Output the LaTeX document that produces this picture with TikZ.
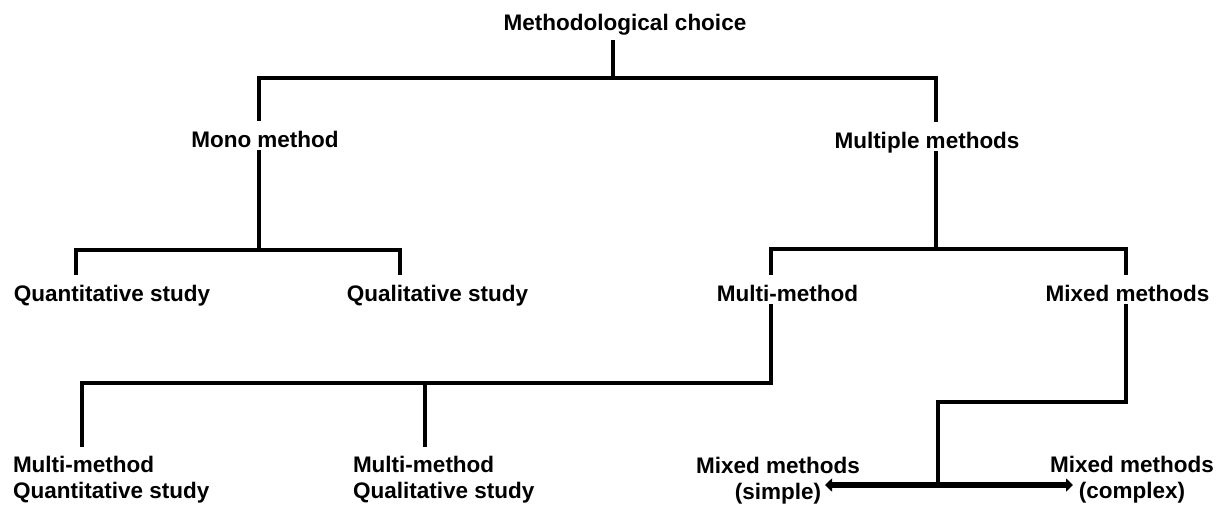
\documentclass[tikz,border=0pt]{standalone}
\usepackage{fontspec}
\setmainfont{Liberation Sans}
\usetikzlibrary{arrows.meta}
\begin{document}
\begin{tikzpicture}[x=1pt,y=-1pt,
  lab/.style={font=\bfseries\fontsize{22.5}{26}\selectfont, inner sep=0pt, outer sep=0pt,
              text height=26pt, text depth=3pt, anchor=base},
  lab2/.style={font=\bfseries\fontsize{22.5}{26}\selectfont, inner sep=0pt, outer xsep=0pt,
               outer ysep=9pt},
  ln/.style={line width=3.3pt, black},
  dbl/.style={line width=5.5pt, black, {Triangle[length=7pt,width=13pt]}-{Triangle[length=7pt,width=13pt]}}
]
\useasboundingbox (0,0) rectangle (1229,504);
\fill[white] (0,0) rectangle (1229,504);

% labels
\node[lab, text depth=10pt] (mc) at (625,30) {Methodological choice};
\node[lab] (mono) at (265,147) {Mono method};
\node[lab] (multi) at (927,148) {Multiple methods};
\node[lab] (quant) at (112,301) {Quantitative study};
\node[lab] (qual) at (437.5,301) {Qualitative study};
\node[lab] (mm) at (787.5,301) {Multi-method};
\node[lab] (mixed) at (1127.5,301) {Mixed methods};
\node[lab2, align=left, anchor=north west] (mmquant) at (13,447) {Multi-method\\Quantitative study};
\node[lab2, align=left, anchor=north west] (mmqual) at (353,447) {Multi-method\\Qualitative study};
\node[lab2, align=center, anchor=north] (simple) at (778,448) {Mixed methods\\(simple)};
\node[lab2, align=center, anchor=north] (complex) at (1132,447) {Mixed methods\\(complex)};

% junction coordinates
\coordinate (jtop) at (613,78);
\coordinate (jmono) at (259,250);
\coordinate (jmulti) at (936,249);
\coordinate (q1) at (76,250);
\coordinate (q2) at (400,250);
\coordinate (m1) at (771,249);
\coordinate (m2) at (1126,249);
\coordinate (jb) at (771,383);
\coordinate (b1) at (82,383);
\coordinate (b2) at (425,383);
\coordinate (jm) at (1126,402);
\coordinate (jm2) at (938,402);
\coordinate (jarr) at (938,485);
\coordinate (aL) at (825,485);
\coordinate (aR) at (1073,485);

% connectors
\draw[ln] (mc.south -| jtop) -- (jtop);
\draw[ln] (mono.north -| jmono) |- (jtop) -| (multi.north -| jmulti);
\draw[ln] (mono.south -| jmono) -- (jmono);
\draw[ln] (quant.north -| q1) -- (q1) -- (q2) -- (qual.north -| q2);
\draw[ln] (multi.south -| jmulti) -- (jmulti);
\draw[ln] (mm.north -| m1) -- (m1) -- (m2) -- (mixed.north -| m2);
\draw[ln] (mm.south -| jb) -- (jb) -- (b1) -- (mmquant.north -| b1);
\draw[ln] (b2) -- (mmqual.north -| b2);
\draw[ln] (mixed.south -| jm) -- (jm) -- (jm2) -- (jarr);
\draw[dbl] (aL) -- (aR);
\end{tikzpicture}
\end{document}
